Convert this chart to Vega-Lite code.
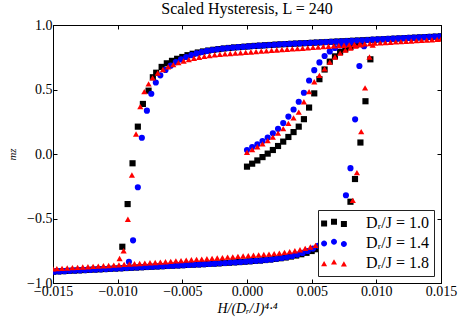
{
"$schema":"https://vega.github.io/schema/vega-lite/v6.json",
"width":388,"height":258,
"autosize":{"type":"none"},
"padding":{"left":53,"top":25,"right":22,"bottom":41},
"background":"white",
"title":{"text":"Scaled Hysteresis, L = 240","font":"Liberation Serif","fontSize":16,"fontWeight":"normal","color":"black","offset":1},
"data":{"values":[
{"s":"1.0","x":-0.0150,"y":-0.912},{"s":"1.0","x":-0.0146,"y":-0.910},{"s":"1.0","x":-0.0142,"y":-0.908},{"s":"1.0","x":-0.0138,"y":-0.906},{"s":"1.0","x":-0.0134,"y":-0.904},{"s":"1.0","x":-0.0130,"y":-0.902},{"s":"1.0","x":-0.0126,"y":-0.900},{"s":"1.0","x":-0.0122,"y":-0.898},{"s":"1.0","x":-0.0118,"y":-0.896},{"s":"1.0","x":-0.0114,"y":-0.894},{"s":"1.0","x":-0.0110,"y":-0.892},{"s":"1.0","x":-0.0106,"y":-0.890},{"s":"1.0","x":-0.0102,"y":-0.888},{"s":"1.0","x":-0.0098,"y":-0.886},{"s":"1.0","x":-0.0094,"y":-0.884},{"s":"1.0","x":-0.0090,"y":-0.882},{"s":"1.0","x":-0.0086,"y":-0.880},{"s":"1.0","x":-0.0082,"y":-0.878},{"s":"1.0","x":-0.0078,"y":-0.876},{"s":"1.0","x":-0.0074,"y":-0.874},{"s":"1.0","x":-0.0070,"y":-0.872},{"s":"1.0","x":-0.0066,"y":-0.870},{"s":"1.0","x":-0.0062,"y":-0.868},{"s":"1.0","x":-0.0058,"y":-0.866},{"s":"1.0","x":-0.0054,"y":-0.864},{"s":"1.0","x":-0.0050,"y":-0.862},{"s":"1.0","x":-0.0046,"y":-0.860},{"s":"1.0","x":-0.0042,"y":-0.858},{"s":"1.0","x":-0.0038,"y":-0.856},{"s":"1.0","x":-0.0034,"y":-0.854},{"s":"1.0","x":-0.0030,"y":-0.852},{"s":"1.0","x":-0.0026,"y":-0.850},{"s":"1.0","x":-0.0022,"y":-0.848},{"s":"1.0","x":-0.0018,"y":-0.845},{"s":"1.0","x":-0.0014,"y":-0.843},{"s":"1.0","x":-0.0010,"y":-0.840},{"s":"1.0","x":-0.0006,"y":-0.838},{"s":"1.0","x":-0.0002,"y":-0.835},{"s":"1.0","x":0.0002,"y":-0.832},{"s":"1.0","x":0.0006,"y":-0.829},{"s":"1.0","x":0.0010,"y":-0.826},{"s":"1.0","x":0.0014,"y":-0.822},{"s":"1.0","x":0.0018,"y":-0.818},{"s":"1.0","x":0.0022,"y":-0.813},{"s":"1.0","x":0.0026,"y":-0.808},{"s":"1.0","x":0.0030,"y":-0.802},{"s":"1.0","x":0.0034,"y":-0.795},{"s":"1.0","x":0.0038,"y":-0.787},{"s":"1.0","x":0.0042,"y":-0.777},{"s":"1.0","x":0.0046,"y":-0.766},{"s":"1.0","x":0.0050,"y":-0.752},{"s":"1.0","x":0.0054,"y":-0.738},{"s":"1.0","x":0.0058,"y":-0.722},{"s":"1.0","x":0.0062,"y":-0.703},{"s":"1.0","x":0.0066,"y":-0.675},
{"s":"1.0","x":0.00702,"y":-0.630},{"s":"1.0","x":0.0073,"y":-0.595},{"s":"1.0","x":0.00761,"y":-0.491},{"s":"1.0","x":0.0080,"y":-0.370},{"s":"1.0","x":0.00835,"y":-0.194},{"s":"1.0","x":0.00877,"y":0.089},{"s":"1.0","x":0.00916,"y":0.409},{"s":"1.0","x":0.00954,"y":0.734},
{"s":"1.0","x":-0.00964,"y":-0.719},{"s":"1.0","x":-0.00923,"y":-0.388},{"s":"1.0","x":-0.00885,"y":-0.072},{"s":"1.0","x":-0.00844,"y":0.212},{"s":"1.0","x":-0.00805,"y":0.388},{"s":"1.0","x":-0.00761,"y":0.491},{"s":"1.0","x":-0.00728,"y":0.595},{"s":"1.0","x":-0.00702,"y":0.630},
{"s":"1.0","x":-0.0066,"y":0.675},{"s":"1.0","x":-0.0062,"y":0.703},{"s":"1.0","x":-0.0058,"y":0.722},{"s":"1.0","x":-0.0054,"y":0.738},{"s":"1.0","x":-0.0050,"y":0.752},{"s":"1.0","x":-0.0046,"y":0.766},{"s":"1.0","x":-0.0042,"y":0.777},{"s":"1.0","x":-0.0038,"y":0.787},{"s":"1.0","x":-0.0034,"y":0.795},{"s":"1.0","x":-0.0030,"y":0.802},{"s":"1.0","x":-0.0026,"y":0.808},{"s":"1.0","x":-0.0022,"y":0.813},{"s":"1.0","x":-0.0018,"y":0.818},{"s":"1.0","x":-0.0014,"y":0.822},{"s":"1.0","x":-0.0010,"y":0.826},{"s":"1.0","x":-0.0006,"y":0.829},{"s":"1.0","x":-0.0002,"y":0.832},{"s":"1.0","x":0.0002,"y":0.835},{"s":"1.0","x":0.0006,"y":0.838},{"s":"1.0","x":0.0010,"y":0.840},{"s":"1.0","x":0.0014,"y":0.843},{"s":"1.0","x":0.0018,"y":0.845},{"s":"1.0","x":0.0022,"y":0.848},{"s":"1.0","x":0.0026,"y":0.850},{"s":"1.0","x":0.0030,"y":0.852},{"s":"1.0","x":0.0034,"y":0.854},{"s":"1.0","x":0.0038,"y":0.856},{"s":"1.0","x":0.0042,"y":0.858},{"s":"1.0","x":0.0046,"y":0.860},{"s":"1.0","x":0.0050,"y":0.862},{"s":"1.0","x":0.0054,"y":0.864},{"s":"1.0","x":0.0058,"y":0.866},{"s":"1.0","x":0.0062,"y":0.868},{"s":"1.0","x":0.0066,"y":0.870},{"s":"1.0","x":0.0070,"y":0.872},{"s":"1.0","x":0.0074,"y":0.874},{"s":"1.0","x":0.0078,"y":0.876},{"s":"1.0","x":0.0082,"y":0.878},{"s":"1.0","x":0.0086,"y":0.880},{"s":"1.0","x":0.0090,"y":0.882},{"s":"1.0","x":0.0094,"y":0.884},{"s":"1.0","x":0.0098,"y":0.886},{"s":"1.0","x":0.0102,"y":0.888},{"s":"1.0","x":0.0106,"y":0.890},{"s":"1.0","x":0.0110,"y":0.892},{"s":"1.0","x":0.0114,"y":0.894},{"s":"1.0","x":0.0118,"y":0.896},{"s":"1.0","x":0.0122,"y":0.898},{"s":"1.0","x":0.0126,"y":0.900},{"s":"1.0","x":0.0130,"y":0.902},{"s":"1.0","x":0.0134,"y":0.904},{"s":"1.0","x":0.0138,"y":0.906},{"s":"1.0","x":0.0142,"y":0.908},{"s":"1.0","x":0.0146,"y":0.910},{"s":"1.0","x":0.0150,"y":0.912},
{"s":"1.0","x":0.0000,"y":-0.098},{"s":"1.0","x":0.0004,"y":-0.075},{"s":"1.0","x":0.0008,"y":-0.050},{"s":"1.0","x":0.0012,"y":-0.024},{"s":"1.0","x":0.0016,"y":0.003},{"s":"1.0","x":0.0020,"y":0.031},{"s":"1.0","x":0.0024,"y":0.062},{"s":"1.0","x":0.0028,"y":0.096},{"s":"1.0","x":0.0032,"y":0.132},{"s":"1.0","x":0.0036,"y":0.170},{"s":"1.0","x":0.0040,"y":0.212},{"s":"1.0","x":0.0044,"y":0.270},{"s":"1.0","x":0.0048,"y":0.360},{"s":"1.0","x":0.0052,"y":0.470},{"s":"1.0","x":0.0056,"y":0.580},{"s":"1.0","x":0.0060,"y":0.655},{"s":"1.0","x":0.0064,"y":0.716},{"s":"1.0","x":0.0068,"y":0.757},{"s":"1.0","x":0.0072,"y":0.790},{"s":"1.0","x":0.0076,"y":0.812},{"s":"1.0","x":0.0080,"y":0.830},{"s":"1.0","x":0.0084,"y":0.845},{"s":"1.0","x":0.0088,"y":0.857},

{"s":"1.4","x":-0.0149,"y":-0.912},{"s":"1.4","x":-0.0145,"y":-0.910},{"s":"1.4","x":-0.0141,"y":-0.908},{"s":"1.4","x":-0.0137,"y":-0.906},{"s":"1.4","x":-0.0133,"y":-0.904},{"s":"1.4","x":-0.0129,"y":-0.902},{"s":"1.4","x":-0.0125,"y":-0.900},{"s":"1.4","x":-0.0121,"y":-0.898},{"s":"1.4","x":-0.0117,"y":-0.896},{"s":"1.4","x":-0.0113,"y":-0.894},{"s":"1.4","x":-0.0109,"y":-0.892},{"s":"1.4","x":-0.0105,"y":-0.890},{"s":"1.4","x":-0.0101,"y":-0.888},{"s":"1.4","x":-0.0097,"y":-0.886},{"s":"1.4","x":-0.0093,"y":-0.884},{"s":"1.4","x":-0.0089,"y":-0.882},{"s":"1.4","x":-0.0085,"y":-0.880},{"s":"1.4","x":-0.0081,"y":-0.878},{"s":"1.4","x":-0.0077,"y":-0.876},{"s":"1.4","x":-0.0073,"y":-0.874},{"s":"1.4","x":-0.0069,"y":-0.872},{"s":"1.4","x":-0.0065,"y":-0.870},{"s":"1.4","x":-0.0061,"y":-0.868},{"s":"1.4","x":-0.0057,"y":-0.866},{"s":"1.4","x":-0.0053,"y":-0.864},{"s":"1.4","x":-0.0049,"y":-0.862},{"s":"1.4","x":-0.0045,"y":-0.860},{"s":"1.4","x":-0.0041,"y":-0.858},{"s":"1.4","x":-0.0037,"y":-0.856},{"s":"1.4","x":-0.0033,"y":-0.854},{"s":"1.4","x":-0.0029,"y":-0.852},{"s":"1.4","x":-0.0025,"y":-0.850},{"s":"1.4","x":-0.0021,"y":-0.847},{"s":"1.4","x":-0.0017,"y":-0.845},{"s":"1.4","x":-0.0013,"y":-0.842},{"s":"1.4","x":-0.0009,"y":-0.840},{"s":"1.4","x":-0.0005,"y":-0.837},{"s":"1.4","x":-0.0001,"y":-0.834},{"s":"1.4","x":0.0003,"y":-0.831},{"s":"1.4","x":0.0007,"y":-0.828},{"s":"1.4","x":0.0011,"y":-0.825},{"s":"1.4","x":0.0015,"y":-0.821},{"s":"1.4","x":0.0019,"y":-0.817},{"s":"1.4","x":0.0023,"y":-0.812},{"s":"1.4","x":0.0027,"y":-0.806},{"s":"1.4","x":0.0031,"y":-0.799},{"s":"1.4","x":0.0035,"y":-0.790},{"s":"1.4","x":0.0039,"y":-0.780},{"s":"1.4","x":0.0043,"y":-0.767},{"s":"1.4","x":0.0047,"y":-0.752},{"s":"1.4","x":0.0051,"y":-0.733},{"s":"1.4","x":0.0055,"y":-0.712},{"s":"1.4","x":0.0059,"y":-0.685},{"s":"1.4","x":0.0063,"y":-0.652},{"s":"1.4","x":0.0067,"y":-0.610},
{"s":"1.4","x":0.00705,"y":-0.554},{"s":"1.4","x":0.0074,"y":-0.467},{"s":"1.4","x":0.00765,"y":-0.320},{"s":"1.4","x":0.0080,"y":-0.110},{"s":"1.4","x":0.00836,"y":0.269},{"s":"1.4","x":0.00869,"y":0.682},{"s":"1.4","x":0.00905,"y":0.835},
{"s":"1.4","x":-0.00913,"y":-0.835},{"s":"1.4","x":-0.00881,"y":-0.669},{"s":"1.4","x":-0.00844,"y":-0.258},{"s":"1.4","x":-0.00813,"y":0.126},{"s":"1.4","x":-0.00774,"y":0.336},{"s":"1.4","x":-0.0074,"y":0.467},{"s":"1.4","x":-0.00705,"y":0.554},
{"s":"1.4","x":-0.0067,"y":0.610},{"s":"1.4","x":-0.0063,"y":0.652},{"s":"1.4","x":-0.0059,"y":0.685},{"s":"1.4","x":-0.0055,"y":0.712},{"s":"1.4","x":-0.0051,"y":0.733},{"s":"1.4","x":-0.0047,"y":0.752},{"s":"1.4","x":-0.0043,"y":0.767},{"s":"1.4","x":-0.0039,"y":0.780},{"s":"1.4","x":-0.0035,"y":0.790},{"s":"1.4","x":-0.0031,"y":0.799},{"s":"1.4","x":-0.0027,"y":0.806},{"s":"1.4","x":-0.0023,"y":0.812},{"s":"1.4","x":-0.0019,"y":0.817},{"s":"1.4","x":-0.0015,"y":0.821},{"s":"1.4","x":-0.0011,"y":0.825},{"s":"1.4","x":-0.0007,"y":0.828},{"s":"1.4","x":-0.0003,"y":0.831},{"s":"1.4","x":0.0001,"y":0.834},{"s":"1.4","x":0.0005,"y":0.837},{"s":"1.4","x":0.0009,"y":0.840},{"s":"1.4","x":0.0013,"y":0.842},{"s":"1.4","x":0.0017,"y":0.845},{"s":"1.4","x":0.0021,"y":0.847},{"s":"1.4","x":0.0025,"y":0.850},{"s":"1.4","x":0.0029,"y":0.852},{"s":"1.4","x":0.0033,"y":0.854},{"s":"1.4","x":0.0037,"y":0.856},{"s":"1.4","x":0.0041,"y":0.858},{"s":"1.4","x":0.0045,"y":0.860},{"s":"1.4","x":0.0049,"y":0.862},{"s":"1.4","x":0.0053,"y":0.864},{"s":"1.4","x":0.0057,"y":0.866},{"s":"1.4","x":0.0061,"y":0.868},{"s":"1.4","x":0.0065,"y":0.870},{"s":"1.4","x":0.0069,"y":0.872},{"s":"1.4","x":0.0073,"y":0.874},{"s":"1.4","x":0.0077,"y":0.876},{"s":"1.4","x":0.0081,"y":0.878},{"s":"1.4","x":0.0085,"y":0.880},{"s":"1.4","x":0.0089,"y":0.882},{"s":"1.4","x":0.0093,"y":0.884},{"s":"1.4","x":0.0097,"y":0.886},{"s":"1.4","x":0.0101,"y":0.888},{"s":"1.4","x":0.0105,"y":0.890},{"s":"1.4","x":0.0109,"y":0.892},{"s":"1.4","x":0.0113,"y":0.894},{"s":"1.4","x":0.0117,"y":0.896},{"s":"1.4","x":0.0121,"y":0.898},{"s":"1.4","x":0.0125,"y":0.900},{"s":"1.4","x":0.0129,"y":0.902},{"s":"1.4","x":0.0133,"y":0.904},{"s":"1.4","x":0.0137,"y":0.906},{"s":"1.4","x":0.0141,"y":0.908},{"s":"1.4","x":0.0145,"y":0.910},{"s":"1.4","x":0.0149,"y":0.912},
{"s":"1.4","x":0.0000,"y":0.031},{"s":"1.4","x":0.0004,"y":0.054},{"s":"1.4","x":0.0008,"y":0.075},{"s":"1.4","x":0.0012,"y":0.100},{"s":"1.4","x":0.0016,"y":0.128},{"s":"1.4","x":0.0020,"y":0.160},{"s":"1.4","x":0.0024,"y":0.195},{"s":"1.4","x":0.0028,"y":0.240},{"s":"1.4","x":0.0032,"y":0.290},{"s":"1.4","x":0.0036,"y":0.345},{"s":"1.4","x":0.0040,"y":0.405},{"s":"1.4","x":0.0044,"y":0.475},{"s":"1.4","x":0.0048,"y":0.570},{"s":"1.4","x":0.0052,"y":0.650},{"s":"1.4","x":0.0056,"y":0.710},{"s":"1.4","x":0.0060,"y":0.760},{"s":"1.4","x":0.0064,"y":0.795},{"s":"1.4","x":0.0068,"y":0.822},{"s":"1.4","x":0.0072,"y":0.842},{"s":"1.4","x":0.0076,"y":0.855},{"s":"1.4","x":0.0080,"y":0.864},

{"s":"1.8","x":-0.0150,"y":-0.890},{"s":"1.8","x":-0.0147,"y":-0.888},{"s":"1.8","x":-0.0143,"y":-0.886},{"s":"1.8","x":-0.0139,"y":-0.884},{"s":"1.8","x":-0.0135,"y":-0.881},{"s":"1.8","x":-0.0131,"y":-0.879},{"s":"1.8","x":-0.0127,"y":-0.876},{"s":"1.8","x":-0.0123,"y":-0.874},{"s":"1.8","x":-0.0119,"y":-0.871},{"s":"1.8","x":-0.0115,"y":-0.869},{"s":"1.8","x":-0.0111,"y":-0.866},{"s":"1.8","x":-0.0107,"y":-0.864},{"s":"1.8","x":-0.0103,"y":-0.861},{"s":"1.8","x":-0.0099,"y":-0.859},{"s":"1.8","x":-0.0095,"y":-0.856},{"s":"1.8","x":-0.0091,"y":-0.854},{"s":"1.8","x":-0.0087,"y":-0.851},{"s":"1.8","x":-0.0083,"y":-0.849},{"s":"1.8","x":-0.0079,"y":-0.846},{"s":"1.8","x":-0.0075,"y":-0.843},{"s":"1.8","x":-0.0071,"y":-0.841},{"s":"1.8","x":-0.0067,"y":-0.838},{"s":"1.8","x":-0.0063,"y":-0.835},{"s":"1.8","x":-0.0059,"y":-0.832},{"s":"1.8","x":-0.0055,"y":-0.829},{"s":"1.8","x":-0.0051,"y":-0.826},{"s":"1.8","x":-0.0047,"y":-0.823},{"s":"1.8","x":-0.0043,"y":-0.820},{"s":"1.8","x":-0.0039,"y":-0.817},{"s":"1.8","x":-0.0035,"y":-0.815},{"s":"1.8","x":-0.0031,"y":-0.812},{"s":"1.8","x":-0.0027,"y":-0.809},{"s":"1.8","x":-0.0023,"y":-0.806},{"s":"1.8","x":-0.0019,"y":-0.803},{"s":"1.8","x":-0.0015,"y":-0.800},{"s":"1.8","x":-0.0011,"y":-0.797},{"s":"1.8","x":-0.0007,"y":-0.794},{"s":"1.8","x":-0.0003,"y":-0.791},{"s":"1.8","x":0.0001,"y":-0.788},{"s":"1.8","x":0.0005,"y":-0.785},{"s":"1.8","x":0.0009,"y":-0.782},{"s":"1.8","x":0.0013,"y":-0.779},{"s":"1.8","x":0.0017,"y":-0.776},{"s":"1.8","x":0.0021,"y":-0.772},{"s":"1.8","x":0.0025,"y":-0.768},{"s":"1.8","x":0.0029,"y":-0.763},{"s":"1.8","x":0.0033,"y":-0.757},{"s":"1.8","x":0.0037,"y":-0.750},{"s":"1.8","x":0.0041,"y":-0.742},{"s":"1.8","x":0.0045,"y":-0.732},{"s":"1.8","x":0.0049,"y":-0.721},{"s":"1.8","x":0.0053,"y":-0.708},{"s":"1.8","x":0.0057,"y":-0.693},{"s":"1.8","x":0.0061,"y":-0.676},{"s":"1.8","x":0.0065,"y":-0.655},{"s":"1.8","x":0.0069,"y":-0.628},{"s":"1.8","x":0.0073,"y":-0.590},
{"s":"1.8","x":0.00761,"y":-0.543},{"s":"1.8","x":0.00794,"y":-0.483},{"s":"1.8","x":0.00818,"y":-0.360},{"s":"1.8","x":0.0085,"y":-0.145},{"s":"1.8","x":0.00883,"y":0.173},{"s":"1.8","x":0.00913,"y":0.512},{"s":"1.8","x":0.00947,"y":0.752},{"s":"1.8","x":0.00972,"y":0.845},
{"s":"1.8","x":-0.00985,"y":-0.810},{"s":"1.8","x":-0.00954,"y":-0.750},{"s":"1.8","x":-0.00921,"y":-0.506},{"s":"1.8","x":-0.0089,"y":-0.163},{"s":"1.8","x":-0.00858,"y":0.155},{"s":"1.8","x":-0.00825,"y":0.367},{"s":"1.8","x":-0.00794,"y":0.483},{"s":"1.8","x":-0.00761,"y":0.543},
{"s":"1.8","x":-0.0073,"y":0.590},{"s":"1.8","x":-0.0069,"y":0.628},{"s":"1.8","x":-0.0065,"y":0.655},{"s":"1.8","x":-0.0061,"y":0.676},{"s":"1.8","x":-0.0057,"y":0.693},{"s":"1.8","x":-0.0053,"y":0.708},{"s":"1.8","x":-0.0049,"y":0.721},{"s":"1.8","x":-0.0045,"y":0.732},{"s":"1.8","x":-0.0041,"y":0.742},{"s":"1.8","x":-0.0037,"y":0.750},{"s":"1.8","x":-0.0033,"y":0.757},{"s":"1.8","x":-0.0029,"y":0.763},{"s":"1.8","x":-0.0025,"y":0.768},{"s":"1.8","x":-0.0021,"y":0.772},{"s":"1.8","x":-0.0017,"y":0.776},{"s":"1.8","x":-0.0013,"y":0.779},{"s":"1.8","x":-0.0009,"y":0.782},{"s":"1.8","x":-0.0005,"y":0.785},{"s":"1.8","x":-0.0001,"y":0.788},{"s":"1.8","x":0.0003,"y":0.791},{"s":"1.8","x":0.0007,"y":0.794},{"s":"1.8","x":0.0011,"y":0.797},{"s":"1.8","x":0.0015,"y":0.800},{"s":"1.8","x":0.0019,"y":0.803},{"s":"1.8","x":0.0023,"y":0.806},{"s":"1.8","x":0.0027,"y":0.809},{"s":"1.8","x":0.0031,"y":0.812},{"s":"1.8","x":0.0035,"y":0.815},{"s":"1.8","x":0.0039,"y":0.817},{"s":"1.8","x":0.0043,"y":0.820},{"s":"1.8","x":0.0047,"y":0.823},{"s":"1.8","x":0.0051,"y":0.826},{"s":"1.8","x":0.0055,"y":0.829},{"s":"1.8","x":0.0059,"y":0.832},{"s":"1.8","x":0.0063,"y":0.835},{"s":"1.8","x":0.0067,"y":0.838},{"s":"1.8","x":0.0071,"y":0.841},{"s":"1.8","x":0.0075,"y":0.843},{"s":"1.8","x":0.0079,"y":0.846},{"s":"1.8","x":0.0083,"y":0.849},{"s":"1.8","x":0.0087,"y":0.851},{"s":"1.8","x":0.0091,"y":0.854},{"s":"1.8","x":0.0095,"y":0.856},{"s":"1.8","x":0.0099,"y":0.859},{"s":"1.8","x":0.0103,"y":0.861},{"s":"1.8","x":0.0107,"y":0.864},{"s":"1.8","x":0.0111,"y":0.866},{"s":"1.8","x":0.0115,"y":0.869},{"s":"1.8","x":0.0119,"y":0.871},{"s":"1.8","x":0.0123,"y":0.874},{"s":"1.8","x":0.0127,"y":0.876},{"s":"1.8","x":0.0131,"y":0.879},{"s":"1.8","x":0.0135,"y":0.881},{"s":"1.8","x":0.0139,"y":0.884},{"s":"1.8","x":0.0143,"y":0.886},{"s":"1.8","x":0.0147,"y":0.888},{"s":"1.8","x":0.0150,"y":0.890},
{"s":"1.8","x":0.0000,"y":0.012},{"s":"1.8","x":0.0004,"y":0.034},{"s":"1.8","x":0.0008,"y":0.056},{"s":"1.8","x":0.0012,"y":0.079},{"s":"1.8","x":0.0016,"y":0.104},{"s":"1.8","x":0.0020,"y":0.131},{"s":"1.8","x":0.0024,"y":0.162},{"s":"1.8","x":0.0028,"y":0.197},{"s":"1.8","x":0.0032,"y":0.238},{"s":"1.8","x":0.0036,"y":0.280},{"s":"1.8","x":0.0040,"y":0.325},{"s":"1.8","x":0.0044,"y":0.405},{"s":"1.8","x":0.0048,"y":0.483},{"s":"1.8","x":0.0052,"y":0.560},{"s":"1.8","x":0.0056,"y":0.610},{"s":"1.8","x":0.0060,"y":0.660},{"s":"1.8","x":0.0064,"y":0.712},{"s":"1.8","x":0.0068,"y":0.752},{"s":"1.8","x":0.0072,"y":0.782},{"s":"1.8","x":0.0076,"y":0.805},{"s":"1.8","x":0.0080,"y":0.822},{"s":"1.8","x":0.0084,"y":0.836},{"s":"1.8","x":0.0088,"y":0.846}
]},
"layer":[
{"mark":{"type":"point","filled":true,"size":38,"opacity":1,"strokeWidth":0,"clip":true},
 "encoding":{
  "x":{"field":"x","type":"quantitative","scale":{"domain":[-0.015,0.015],"nice":false,"zero":false},
       "axis":{"orient":"bottom","values":[-0.015,-0.01,-0.005,0,0.005,0.01,0.015],"format":".3f","title":"H/(Dᵣ/J)⁴·⁴","titleFontSize":14,"titleFontStyle":"italic","titlePadding":3}},
  "y":{"field":"y","type":"quantitative","scale":{"domain":[-1,1],"nice":false,"zero":false},
       "axis":{"orient":"left","values":[-1,-0.5,0,0.5,1],"format":".1f","title":"mz","titleFontSize":11,"titleFontStyle":"italic","titlePadding":9}},
  "color":{"field":"s","type":"nominal","scale":{"domain":["1.0","1.4","1.8"],"range":["#000000","#0000ff","#ff0000"]},"legend":null},
  "shape":{"field":"s","type":"nominal","scale":{"domain":["1.0","1.4","1.8"],"range":["square","circle","triangle-up"]},"legend":null}
 }},
{"transform":[{"filter":"false"}],
 "mark":{"type":"point","filled":true,"size":36,"opacity":1,"strokeWidth":0},
 "encoding":{
  "x":{"field":"x","type":"quantitative","axis":null},
  "y":{"field":"y","type":"quantitative","axis":null},
  "color":{"field":"s","type":"nominal","scale":{"domain":["1.0","1.4","1.8"],"range":["#000000","#0000ff","#ff0000"]},
   "legend":{"orient":"bottom-right","offset":7,"title":null,"fillColor":"white","strokeColor":"#222222","padding":5,
     "labelFont":"Liberation Serif","labelFontSize":16,"labelColor":"black","labelOffset":27,"rowPadding":4,"symbolSize":36,
     "labelExpr":"'Dᵣ/J = ' + datum.label"}},
  "shape":{"field":"s","type":"nominal","scale":{"domain":["1.0","1.4","1.8"],"range":[
     "M-3.3,-0.8H-1.3V1.2H-3.3Z M0,-1.4H2V0.6H0Z M3.3,-0.7H5.3V1.3H3.3Z",
     "M-1.3,0.2C-1.3,0.752,-1.748,1.2,-2.3,1.2C-2.852,1.2,-3.3,0.752,-3.3,0.2C-3.3,-0.352,-2.852,-0.8,-2.3,-0.8C-1.748,-0.8,-1.3,-0.352,-1.3,0.2Z M2,-0.4C2,0.152,1.552,0.6,1,0.6C0.448,0.6,0,0.152,0,-0.4C0,-0.952,0.448,-1.4,1,-1.4C1.552,-1.4,2,-0.952,2,-0.4Z M5.3,0.3C5.3,0.852,4.852,1.3,4.3,1.3C3.748,1.3,3.3,0.852,3.3,0.3C3.3,-0.252,3.748,-0.7,4.3,-0.7C4.852,-0.7,5.3,-0.252,5.3,0.3Z",
     "M-2.3,-0.666L-1.3,1.066L-3.3,1.066Z M1,-1.266L2,0.466L0,0.466Z M4.3,-0.566L5.3,1.166L3.3,1.166Z"]},
   "legend":{"orient":"bottom-right","offset":7,"title":null,"fillColor":"white","strokeColor":"#222222","padding":5,
     "labelFont":"Liberation Serif","labelFontSize":16,"labelColor":"black","labelOffset":27,"rowPadding":4,"symbolSize":36,
     "labelExpr":"'Dᵣ/J = ' + datum.label"}}
 }},
{"mark":{"type":"point","opacity":0},
 "encoding":{
  "x":{"field":"x","type":"quantitative","axis":{"orient":"top","values":[-0.015,-0.01,-0.005,0,0.005,0.01,0.015],"labels":false,"title":null}},
  "y":{"field":"y","type":"quantitative","axis":{"orient":"right","values":[-1,-0.5,0,0.5,1],"labels":false,"title":null}}
 }}
],
"resolve":{"axis":{"x":"independent","y":"independent"},"scale":{"color":"independent","shape":"independent"}},
"config":{
 "view":{"stroke":"black","strokeWidth":1},
 "axis":{"grid":false,"domainColor":"black","domainWidth":1,"tickColor":"black","tickWidth":1,"tickSize":-4,"labelColor":"black","titleColor":"black",
   "labelFont":"Liberation Serif","titleFont":"Liberation Serif","labelFontSize":14,"titleFontWeight":"normal","labelPadding":5,"labelFlush":false,"labelOverlap":false}
}
}
